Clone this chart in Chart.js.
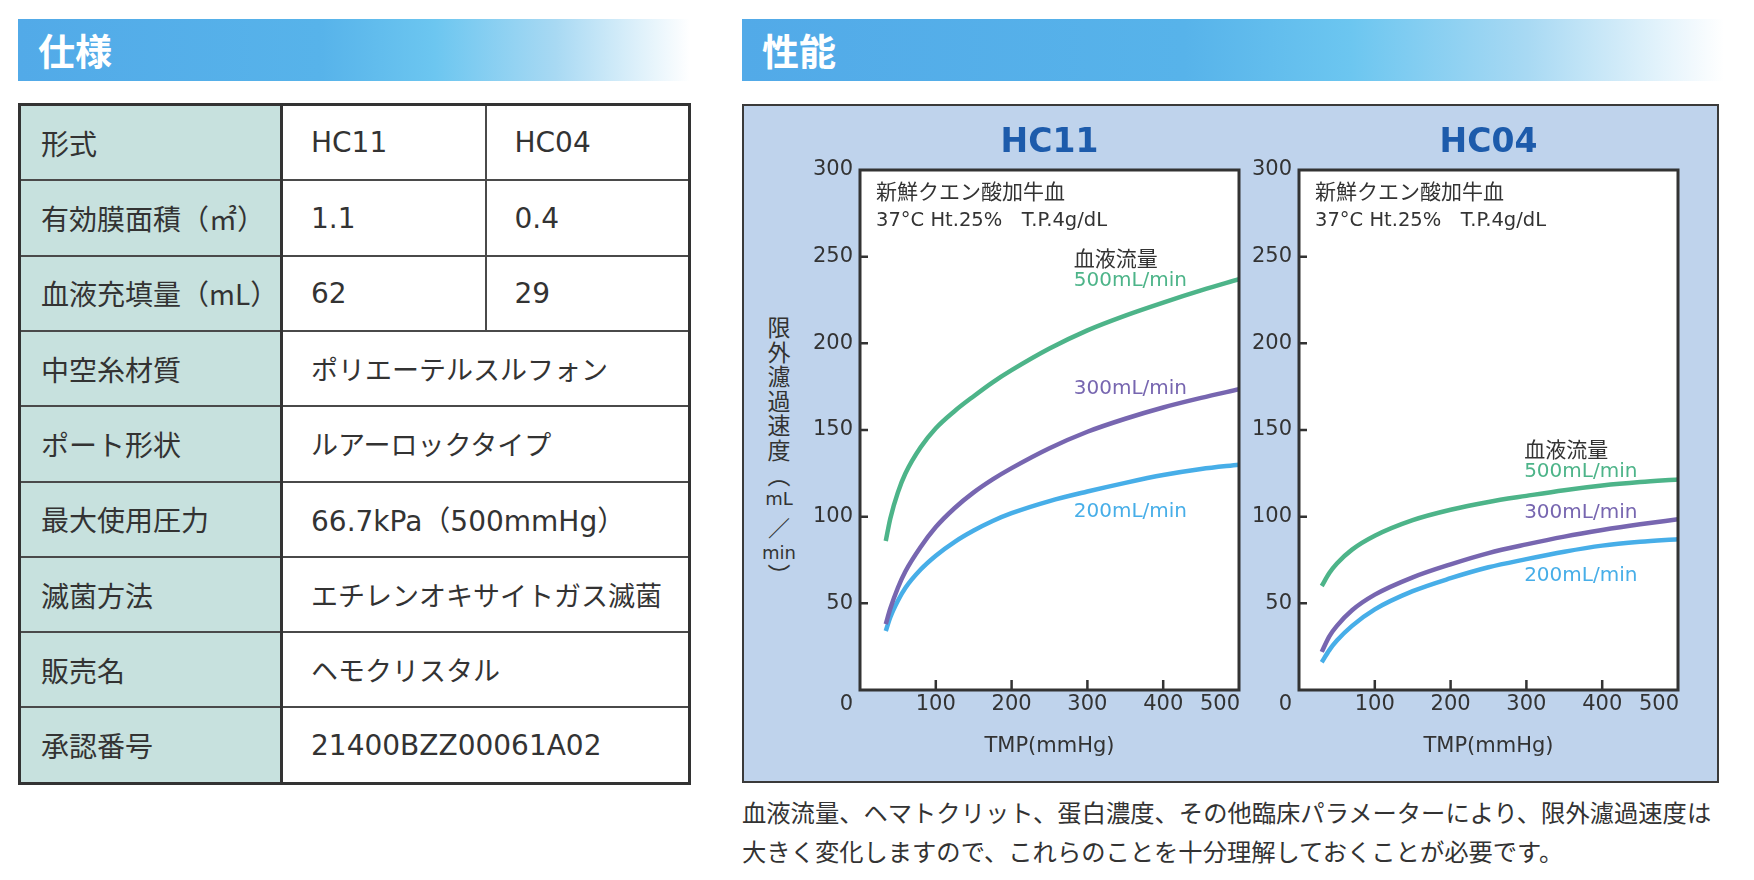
<!DOCTYPE html>
<html lang="ja">
<head>
<meta charset="utf-8">
<script src="https://cdn.jsdelivr.net/npm/chart.js@4.4.0/dist/chart.umd.min.js"></script>
<style>
  html, body { margin: 0; padding: 0; background: #fff; }
  body { width: 1754px; height: 880px; position: relative; overflow: hidden;
         font-family: "Noto Sans CJK JP", sans-serif; color: #333; }
  .bar { position: absolute; top: 19px; height: 62px;
         background: linear-gradient(to right, #52aae8 0%, #57b3ea 45%, #6cc6f0 62%, #a8d9f3 80%, #ffffff 100%); }
  .bar span { position: absolute; left: 20px; top: 6px; font-size: 37px; font-weight: 700;
              color: #fff; line-height: 50px; }
  table.spec { position: absolute; left: 18px; top: 103px; width: 670px; height: 682px;
               border-collapse: collapse; border: 3px solid #333; table-layout: fixed; }
  table.spec td { border: 2px solid #4a4a4a; font-size: 27px; padding: 0 0 0 28px;
                  height: 60px; white-space: nowrap; }
  table.spec td.h { background: #c7e1de; border-right: 3px solid #333; font-size: 28px; padding-left: 20px; }
  table.spec td.v { font-family: "DejaVu Sans", "Noto Sans CJK JP", sans-serif; font-size: 28px; }
  .panel { position: absolute; left: 742px; top: 104px; width: 973px; height: 675px;
           background: #bfd3ec; border: 2px solid #3a3a3a; }
  canvas { position: absolute; }
  .ylab { position: absolute; left: 762px; top: 314px; width: 34px; display: flex;
          flex-direction: column; align-items: center; font-size: 23px; line-height: 24.5px; color: #333; }
  .ylab .s { font-family: "DejaVu Sans", sans-serif; font-size: 18px; line-height: 24px; }
  .ylab .p1 { line-height: 26px; }
  .ylab .p2 { line-height: 18px; }
  .ylab .sl { line-height: 30px; font-size: 22px; }
  .note { position: absolute; left: 742px; top: 792px; font-size: 24.3px; line-height: 39px; color: #333; }
</style>
</head>
<body>
<div class="bar" style="left:18px;width:672px"><span>仕様</span></div>
<div class="bar" style="left:742px;width:982px"><span>性能</span></div>

<table class="spec">
  <colgroup><col style="width:262px"><col style="width:204px"><col style="width:204px"></colgroup>
  <tr><td class="h">形式</td><td class="v">HC11</td><td class="v">HC04</td></tr>
  <tr><td class="h">有効膜面積（㎡）</td><td class="v">1.1</td><td class="v">0.4</td></tr>
  <tr><td class="h">血液充填量（mL）</td><td class="v">62</td><td class="v">29</td></tr>
  <tr><td class="h">中空糸材質</td><td colspan="2">ポリエーテルスルフォン</td></tr>
  <tr><td class="h">ポート形状</td><td colspan="2">ルアーロックタイプ</td></tr>
  <tr><td class="h">最大使用圧力</td><td colspan="2" class="v">66.7kPa（500mmHg）</td></tr>
  <tr><td class="h">滅菌方法</td><td colspan="2">エチレンオキサイトガス滅菌</td></tr>
  <tr><td class="h">販売名</td><td colspan="2">ヘモクリスタル</td></tr>
  <tr><td class="h">承認番号</td><td colspan="2" class="v">21400BZZ00061A02</td></tr>
</table>

<div class="panel"></div>
<div class="ylab">
  <span>限</span><span>外</span><span>濾</span><span>過</span><span>速</span><span>度</span>
  <span class="p1">︵</span><span class="s">mL</span><span class="sl">／</span><span class="s">min</span><span class="p2">︶</span>
</div>
<canvas id="hc11" width="455" height="679" style="left:800px;top:104px"></canvas>
<canvas id="hc04" width="455" height="679" style="left:1245px;top:104px"></canvas>

<div class="note">血液流量、ヘマトクリット、蛋白濃度、その他臨床パラメーターにより、限外濾過速度は<br>大きく変化しますので、これらのことを十分理解しておくことが必要です。</div>

<script>
// TMP (mmHg) sample points and filtration rate (mL/min)
const hc11Tmp = [34, 40, 50, 60, 80, 100, 125, 150, 175, 200, 250, 300, 350, 400, 450, 500];
const hc11Flow500 = [86, 99, 114, 125, 140, 151, 161, 169.5, 177.5, 184.5, 197, 207.5, 216, 223.5, 230.5, 237];
const hc11Flow300 = [38, 47, 59, 68.5, 82.5, 94, 105, 114, 121.5, 128, 139.5, 149, 156.5, 163, 168.5, 173.5];
const hc11Flow200 = [34, 42, 51.5, 59, 69.5, 77.5, 85.5, 92, 97.5, 102, 109, 114.5, 119.5, 124, 127.5, 130];

const hc04Tmp = [30, 40, 50, 70, 100, 150, 200, 250, 300, 350, 400, 450, 500];
const hc04Flow500 = [60, 67.5, 73, 81, 89, 98, 104, 108.5, 112, 115.3, 118, 120, 121.5];
const hc04Flow300 = [22, 31, 37, 46, 55, 65, 72.5, 79, 84, 88.5, 92.3, 95.6, 98.5];
const hc04Flow200 = [16, 23, 28.5, 37, 46.5, 57, 64.5, 70.8, 75.5, 79.8, 83.3, 85.5, 87];

const flowLabels = ["500mL/min", "300mL/min", "200mL/min"];
const xTicks = [0, 100, 200, 300, 400, 500];
const yTicks = [0, 50, 100, 150, 200, 250, 300];
const condition1 = "新鮮クエン酸加牛血";
const condition2 = "37°C Ht.25%　T.P.4g/dL";

const colors = ["#4db489", "#7766b0", "#47aee8"];
const latin = '"DejaVu Sans", "Noto Sans CJK JP", sans-serif';
const jp = '"Noto Sans CJK JP", sans-serif';

function points(xs, ys) {
  return xs.map((x, i) => ({ x: x, y: ys[i] }));
}

// frame, inward ticks and all the texts around each plot
const framePlugin = {
  id: "frame",
  beforeDraw(chart) {
    const a = chart.chartArea, ctx = chart.ctx;
    ctx.save();
    ctx.fillStyle = "#fff";
    ctx.fillRect(a.left, a.top, a.right - a.left, a.bottom - a.top);
    ctx.restore();
  },
  afterDraw(chart) {
    const a = chart.chartArea, ctx = chart.ctx;
    const xs = chart.scales.x, ys = chart.scales.y;
    const opt = chart.options.plugins.frame;
    ctx.save();
    ctx.strokeStyle = "#333";
    ctx.lineWidth = 3;
    ctx.strokeRect(a.left, a.top, a.right - a.left, a.bottom - a.top);

    ctx.lineWidth = 2.5;
    ctx.beginPath();
    yTicks.slice(1, -1).forEach(v => {
      const y = ys.getPixelForValue(v);
      ctx.moveTo(a.left, y); ctx.lineTo(a.left + 8, y);
    });
    xTicks.slice(1, -1).forEach(v => {
      const x = xs.getPixelForValue(v);
      ctx.moveTo(x, a.bottom); ctx.lineTo(x, a.bottom - 10);
    });
    ctx.stroke();

    ctx.fillStyle = "#333";
    ctx.font = "21px " + latin;
    ctx.textBaseline = "middle";
    ctx.textAlign = "right";
    yTicks.slice(1).forEach(v => {
      ctx.fillText(String(v), a.left - 7, ys.getPixelForValue(v));
    });
    ctx.fillText("0", a.left - 7, a.bottom + 15);
    ctx.textAlign = "center";
    xTicks.slice(1, -1).forEach(v => {
      ctx.fillText(String(v), xs.getPixelForValue(v), a.bottom + 15);
    });
    ctx.textAlign = "right";
    ctx.fillText(String(xTicks[xTicks.length - 1]), a.right + 1, a.bottom + 15);

    ctx.textAlign = "center";
    ctx.font = "21px " + latin;
    ctx.fillText("TMP(mmHg)", (a.left + a.right) / 2, a.bottom + 57);

    ctx.fillStyle = "#1d5bab";
    ctx.font = "bold 33px " + latin;
    ctx.fillText(opt.title, (a.left + a.right) / 2, a.top - 27);

    ctx.fillStyle = "#333";
    ctx.textAlign = "left";
    ctx.font = "21px " + jp;
    ctx.fillText(condition1, a.left + 16, a.top + 21);
    ctx.font = "19.5px " + latin;
    ctx.fillText(condition2, a.left + 16, a.top + 51);

    const lx = xs.getPixelForValue(opt.labelX);
    ctx.font = "21px " + jp;
    ctx.fillText("血液流量", lx, ys.getPixelForValue(opt.labelY[0]));
    ctx.font = "20px " + latin;
    flowLabels.forEach((t, i) => {
      ctx.fillStyle = colors[i];
      ctx.fillText(t, lx, ys.getPixelForValue(opt.labelY[i + 1]));
    });
    ctx.restore();
  }
};

function makeChart(id, title, tmp, series, pad, labelX, labelY) {
  new Chart(document.getElementById(id), {
    type: "line",
    data: {
      datasets: series.map((s, i) => ({
        label: flowLabels[i],
        data: points(tmp, s),
        borderColor: colors[i],
        borderWidth: 4.5,
        pointRadius: 0,
        fill: false,
        cubicInterpolationMode: "monotone",
      })),
    },
    options: {
      responsive: false,
      animation: false,
      layout: { padding: pad },
      scales: {
        x: {
          type: "linear", min: 0, max: 500,
          ticks: { display: false }, grid: { display: false }, border: { display: false },
          afterFit(scale) { scale.height = 0; },
        },
        y: {
          min: 0, max: 300,
          ticks: { display: false }, grid: { display: false }, border: { display: false },
          afterFit(scale) { scale.width = 0; },
        },
      },
      plugins: {
        legend: { display: false },
        tooltip: { enabled: false },
        frame: { title: title, labelX: labelX, labelY: labelY },
      },
    },
    plugins: [framePlugin],
  });
}

makeChart("hc11", "HC11", hc11Tmp, [hc11Flow500, hc11Flow300, hc11Flow200],
  { left: 60, top: 66, right: 16, bottom: 93 }, 282, [249, 236, 174, 103]);
makeChart("hc04", "HC04", hc04Tmp, [hc04Flow500, hc04Flow300, hc04Flow200],
  { left: 54, top: 66, right: 22, bottom: 93 }, 297, [139, 126, 102, 66]);
</script>
</body>
</html>
